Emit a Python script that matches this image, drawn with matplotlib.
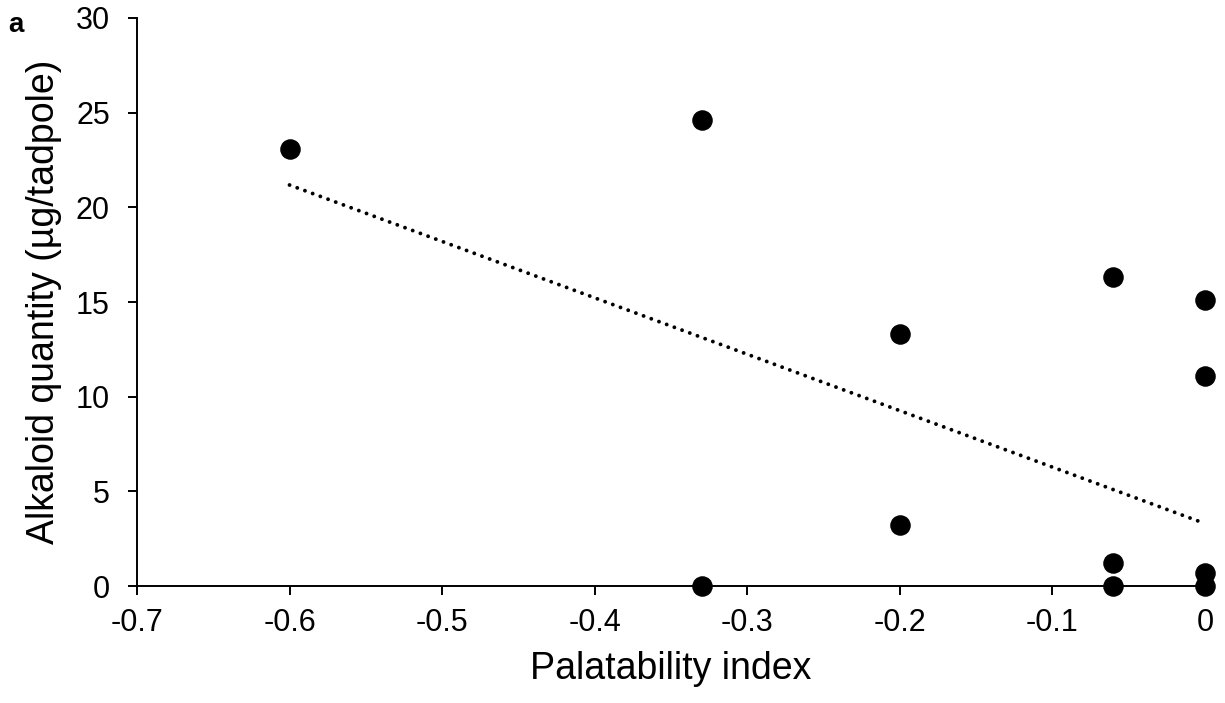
import matplotlib
matplotlib.use("Agg")
import matplotlib.pyplot as plt
import numpy as np

plt.rcParams['font.family'] = ['Liberation Sans', 'DejaVu Sans']

palatability = [-0.6, -0.33, -0.33, -0.2, -0.2, -0.06, -0.06, -0.06, 0, 0, 0, 0]
alkaloid = [23.1, 24.6, 0.0, 13.3, 3.2, 16.3, 1.2, 0.0, 15.1, 11.1, 0.7, 0.0]
trend_x = [-0.6, 0.0]
trend_slope = -29.8
trend_intercept = 3.3
xticks = [-0.7, -0.6, -0.5, -0.4, -0.3, -0.2, -0.1, 0]
xticklabels = ['-0.7', '-0.6', '-0.5', '-0.4', '-0.3', '-0.2', '-0.1', '0']
yticks = [0, 5, 10, 15, 20, 25, 30]

fig = plt.figure(figsize=(12.25, 7.03), dpi=100)
ax = fig.add_axes([0.1118, 0.1664, 0.8719, 0.808])

ax.scatter(palatability, alkaloid, s=190, color='black', zorder=3, clip_on=False)
ty = [trend_intercept + trend_slope * x for x in trend_x]
ax.plot(trend_x, ty, color='black', lw=2.8, linestyle=(0, (0.01, 2.1)),
        dash_capstyle='round', zorder=2)

ax.set_xlim(-0.7, 0)
ax.set_ylim(0, 30)
ax.set_xticks(xticks)
ax.set_xticklabels(xticklabels)
ax.set_yticks(yticks)
for s in ['top', 'right']:
    ax.spines[s].set_visible(False)
for s in ['left', 'bottom']:
    ax.spines[s].set_linewidth(1.4)
ax.tick_params(axis='both', direction='out', width=1.4, length=6.5, labelsize=22)
ax.tick_params(axis='x', pad=9)
ax.tick_params(axis='y', pad=13)
ax.set_xlabel('Palatability index', fontsize=27, labelpad=10)
ax.set_ylabel('Alkaloid quantity (µg/tadpole)', fontsize=27, labelpad=10)
fig.text(0.007, 0.965, 'a', fontsize=20, fontweight='bold', va='center', ha='left',
         family=['Liberation Sans', 'DejaVu Sans'])

fig.savefig('out.png', dpi=100)
